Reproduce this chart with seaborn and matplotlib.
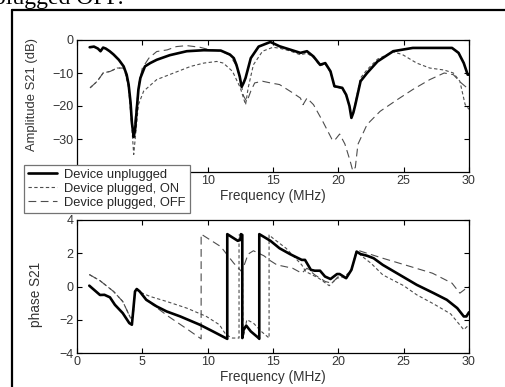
import numpy as np
import pandas as pd
import matplotlib
matplotlib.use("Agg")
import matplotlib.pyplot as plt
from matplotlib.lines import Line2D
import seaborn as sns

# ---------------- data ----------------
labels = ["Device unplugged", "Device plugged, ON", "Device plugged, OFF"]

amp_unplugged_f = [0.97, 1.3, 1.6, 1.8, 2.0, 2.2, 2.5, 2.8, 3.2, 3.57, 3.8, 3.95, 4.1, 4.2, 4.34, 4.45,
                   4.54, 4.7, 4.85, 5.2, 5.6, 6.1, 7.1, 8.4, 9.7, 11.0, 11.7, 12.0, 12.2, 12.45, 12.6,
                   12.75, 12.9, 13.3, 13.9, 14.8, 15.5, 16.3, 17.1, 17.6, 18.1, 18.6, 19.0, 19.4, 19.7,
                   20.3, 20.6, 20.85, 21.0, 21.15, 21.3, 21.7, 22.2, 23.0, 24.2, 25.7, 27.5, 28.7, 29.2,
                   29.6, 29.9, 30.0]
amp_unplugged_db = [-2.2, -2.0, -2.6, -3.4, -2.3, -2.6, -3.4, -4.4, -6.0, -8.0, -10.5, -13.5, -19, -25,
                    -29.4, -27, -22.6, -15, -11.5, -8, -7, -6, -4.6, -3.4, -3.1, -3.2, -4.4, -5.5, -7.5,
                    -11, -14.2, -13, -11.5, -5.5, -2, -0.6, -1.9, -2.9, -3.9, -3.4, -5, -7.5, -7, -9.5,
                    -14, -14.5, -16.6, -20, -23.6, -22, -19.6, -12.5, -10, -6.5, -3.4, -2.4, -2.4, -2.4,
                    -3.9, -7, -10.5, -10.5]

amp_on_f = [1.0, 1.55, 2.0, 2.55, 3.06, 3.6, 3.95, 4.2, 4.34, 4.46, 4.7, 5.1, 6.1, 7.4, 8.7, 9.7, 10.7,
            11.2, 11.9, 12.5, 12.9, 13.1, 13.5, 14.2, 15.0, 15.5, 16.3, 17.1, 17.6, 18.1, 18.6, 19.0,
            19.4, 19.7, 20.3, 20.6, 20.85, 21.0, 21.15, 21.3, 21.7, 22.2, 23.0, 24.2, 24.9, 26.0, 27.0,
            28.1, 28.8, 29.3, 29.7, 30.0]
amp_on_db = [-14.5, -12.5, -10, -9.5, -8.5, -8.5, -14.5, -26.7, -34.7, -29.7, -19.6, -15.5, -12, -10,
             -8, -7, -6.5, -7, -9.5, -14.5, -19.6, -14.5, -7.5, -3.4, -2.2, -2.5, -3.3, -4.5, -4.0, -5.3,
             -7.8, -7.3, -9.8, -14.2, -14.7, -16.8, -20, -23.4, -21.5, -19, -11.5, -9, -5.8, -3.6, -4.4,
             -7, -8.5, -9.1, -10, -12.5, -19.5, -21]

amp_off_f = [1.0, 1.55, 2.0, 2.55, 3.06, 3.6, 3.95, 4.2, 4.34, 4.5, 4.75, 5.0, 5.5, 6.1, 6.9, 7.6, 8.4,
             9.4, 10.2, 11.0, 11.7, 12.2, 12.5, 12.75, 13.0, 13.3, 13.6, 14.2, 14.8, 15.5, 16.5, 17.1,
             17.3, 17.6, 18.1, 18.8, 19.5, 19.7, 20.1, 20.5, 20.9, 21.1, 21.3, 21.5, 22.2, 23.2, 24.5,
             25.7, 27.0, 28.1, 28.8, 29.4, 30.0]
amp_off_db = [-14.5, -12.5, -10, -9.5, -8.5, -8.5, -13.5, -24, -29, -22, -13, -8.5, -5.5, -3.5, -3, -2,
              -1.7, -2.2, -3, -3.3, -4.6, -7.8, -12, -17, -18.7, -15.5, -13, -12.5, -13, -13.5, -16,
              -17.6, -19.6, -17.6, -19.6, -24.6, -30, -30.5, -28.5, -31.5, -36.6, -39.6, -38.6, -31.6,
              -25.6, -21.6, -18.1, -15, -12, -10, -10.5, -13, -15]

ph_unplugged_f = [0.94, 1.76, 2.1, 2.52, 2.9, 3.5, 4.0, 4.2, 4.44, 4.57, 4.8, 5.3, 6.1, 6.86, 7.9, 9.4,
                  10.4, 11.5, 11.5, 11.7, 12.3, 12.5, 12.55, 12.65, 12.65, 12.75, 12.95, 13.3, 13.9,
                  13.95, 13.95, 14.8, 15.5, 16.3, 17.2, 17.45, 17.9, 18.2, 18.6, 18.98, 19.4, 19.9,
                  20.1, 20.6, 21.0, 21.4, 21.7, 22.2, 22.7, 23.4, 24.7, 26.0, 27.3, 28.3, 29.1, 29.6,
                  29.8, 30.0]
ph_unplugged = [0.05, -0.51, -0.5, -0.65, -1.1, -1.6, -2.2, -2.3, -0.3, -0.15, -0.3, -0.8, -1.2, -1.5,
                -1.8, -2.3, -2.7, -3.15, 3.15, 3.05, 2.75, 2.8, 3.15, 3.1, -3.1, -2.6, -2.35, -2.7,
                -3.1, -3.15, 3.15, 2.75, 2.3, 1.95, 1.6, 1.6, 1.0, 0.95, 0.95, 0.6, 0.45, 0.75, 0.75,
                0.5, 1.0, 2.1, 1.95, 1.85, 1.7, 1.3, 0.7, 0.1, -0.4, -0.8, -1.3, -1.8, -1.8, -1.55]

ph_on_f = [0.94, 1.76, 2.8, 3.5, 4.1, 4.3, 4.45, 4.6, 5.0, 5.6, 6.86, 8.4, 9.9, 10.9, 11.4, 11.9, 12.4,
           12.4, 12.65, 12.7, 13.0, 13.5, 14.1, 14.7, 14.7, 15.0, 16.0, 17.2, 17.5, 18.5, 19.3, 19.9,
           20.5, 21.0, 21.4, 22.0, 22.5, 23.4, 25.0, 26.0, 27.3, 28.6, 29.6, 30.0]
ph_on = [0.72, 0.35, -0.3, -0.9, -1.9, -1.8, -0.25, -0.15, -0.4, -0.6, -0.9, -1.3, -1.8, -2.3, -2.9,
         -3.1, -3.1, 3.1, 3.1, -3.1, -2.0, -2.2, -2.7, -3.1, 3.1, 2.9, 2.3, 1.3, 0.9, 0.5, 0.05, 0.5,
         0.6, 1.0, 2.1, 1.7, 1.4, 0.7, 0.05, -0.5, -1.05, -1.65, -2.6, -2.3]

ph_off_f = [0.94, 1.76, 2.8, 3.5, 4.1, 4.3, 4.45, 4.6, 5.0, 5.8, 7.0, 8.5, 9.5, 9.5, 10.0, 11.0, 12.0,
            12.6, 12.8, 13.1, 13.5, 14.3, 14.8, 15.3, 16.5, 17.2, 17.6, 18.2, 19.0, 19.5, 20.0, 20.6,
            21.0, 21.4, 23.4, 25.1, 27.2, 28.7, 29.3, 29.8, 30.0]
ph_off = [0.72, 0.35, -0.3, -0.9, -1.9, -1.8, -0.25, -0.15, -0.5, -1.1, -1.8, -2.6, -3.15, 3.15, 2.9,
          2.4, 1.4, 0.9, 1.3, 1.95, 2.15, 1.85, 1.55, 1.3, 1.1, 0.8, 1.1, 0.7, 0.3, 0.2, 0.6, 0.5, 1.0,
          2.2, 1.7, 1.3, 0.8, 0.2, -0.4, -0.1, 0.0]

xticks = [0, 5, 10, 15, 20, 25, 30]
top_xticklabels = ["", "", "10", "15", "20", "25", "30"]   # 0 and 5 hidden behind the legend
bottom_xticklabels = ["0", "5", "10", "15", "20", "25", "30"]
amp_yticks = [-30, -20, -10, 0]
ph_yticks = [-4, -2, 0, 2, 4]

# ---------------- style ----------------
sns.set_theme(style="ticks")
plt.rcParams["font.family"] = ["Liberation Sans", "DejaVu Sans"]
plt.rcParams.update({
    "xtick.direction": "in", "ytick.direction": "in",
    "xtick.top": True, "ytick.right": True,
    "xtick.major.size": 3.5, "ytick.major.size": 3.5,
    "xtick.major.width": 0.8, "ytick.major.width": 0.8,
    "axes.linewidth": 0.9, "axes.edgecolor": "black",
    "xtick.color": "black", "ytick.color": "black",
    "xtick.labelcolor": "0.2", "ytick.labelcolor": "0.2",
    "font.size": 9,
})

fig = plt.figure(figsize=(5.05, 3.87), dpi=100)
fig.patch.set_facecolor("white")
L, R = 77 / 505, 469 / 505
ax1 = fig.add_axes([L, 1 - 172 / 387, R - L, (172 - 40) / 387])
ax2 = fig.add_axes([L, 1 - 353 / 387, R - L, (353 - 220) / 387])

styles = [dict(color="black", linewidth=1.9, linestyle="-"),
          dict(color="0.3", linewidth=0.8, linestyle=(0, (3.0, 2.2))),
          dict(color="0.3", linewidth=0.8, linestyle=(0, (7.0, 4.0)))]

amp_sets = [(amp_unplugged_f, amp_unplugged_db), (amp_on_f, amp_on_db), (amp_off_f, amp_off_db)]
ph_sets = [(ph_unplugged_f, ph_unplugged), (ph_on_f, ph_on), (ph_off_f, ph_off)]

# draw dashed first, solid on top
for idx in [2, 1, 0]:
    fx, fy = amp_sets[idx]
    df = pd.DataFrame({"f": fx, "v": fy})
    sns.lineplot(data=df, x="f", y="v", ax=ax1, sort=False, estimator=None,
                 zorder=3 if idx == 0 else 2, **styles[idx])
    fx, fy = ph_sets[idx]
    df = pd.DataFrame({"f": fx, "v": fy})
    sns.lineplot(data=df, x="f", y="v", ax=ax2, sort=False, estimator=None,
                 zorder=3 if idx == 0 else 2, **styles[idx])

for ax, xl in ((ax1, top_xticklabels), (ax2, bottom_xticklabels)):
    ax.set_xlim(0, 30)
    ax.set_xticks(xticks)
    ax.set_xticklabels(xl)
    ax.tick_params(labelsize=9, pad=2.5)
    ax.set_xlabel("Frequency (MHz)", fontsize=9.8, color="0.2", labelpad=1)
    for s in ax.spines.values():
        s.set_visible(True)

ax1.set_ylim(-40, 0)
ax1.set_yticks(amp_yticks)
ax1.set_ylabel("Amplitude S21 (dB)", fontsize=9.4, color="0.2")
ax1.yaxis.set_label_coords(-0.1, 0.585)
ax2.set_ylim(-4, 4)
ax2.set_yticks(ph_yticks)
ax2.set_ylabel("phase S21", fontsize=9.8, color="0.2")
ax2.yaxis.set_label_coords(-0.088, 0.44)

handles = [Line2D([], [], **styles[i]) for i in range(3)]
leg = ax1.legend(handles, labels, loc="lower left",
                 bbox_to_anchor=(24 / 505, 1 - 213 / 387), bbox_transform=fig.transFigure,
                 fontsize=9.3, frameon=True, fancybox=False, framealpha=1,
                 edgecolor="0.45", borderpad=0.32, labelspacing=0.15,
                 handlelength=2.2, handletextpad=0.59, borderaxespad=0)
leg.get_frame().set_linewidth(0.9)
for t in leg.get_texts():
    t.set_color("0.15")
leg.set_zorder(10)

# page frame lines
fig.add_artist(Line2D([11.5 / 505, 11.5 / 505], [0, 1 - 10 / 387], transform=fig.transFigure,
                      color="black", linewidth=1.6))
fig.add_artist(Line2D([11.5 / 505, 1], [1 - 10 / 387, 1 - 10 / 387], transform=fig.transFigure,
                      color="black", linewidth=1.6))
# cut-off document text above the figure
fig.text(-6 / 505, 1 - 4 / 387, "plugged OFF.", fontsize=17, va="baseline", ha="left",
         family=["Liberation Serif", "DejaVu Serif"], color="black")

fig.savefig("out.png", dpi=100, facecolor="white")
